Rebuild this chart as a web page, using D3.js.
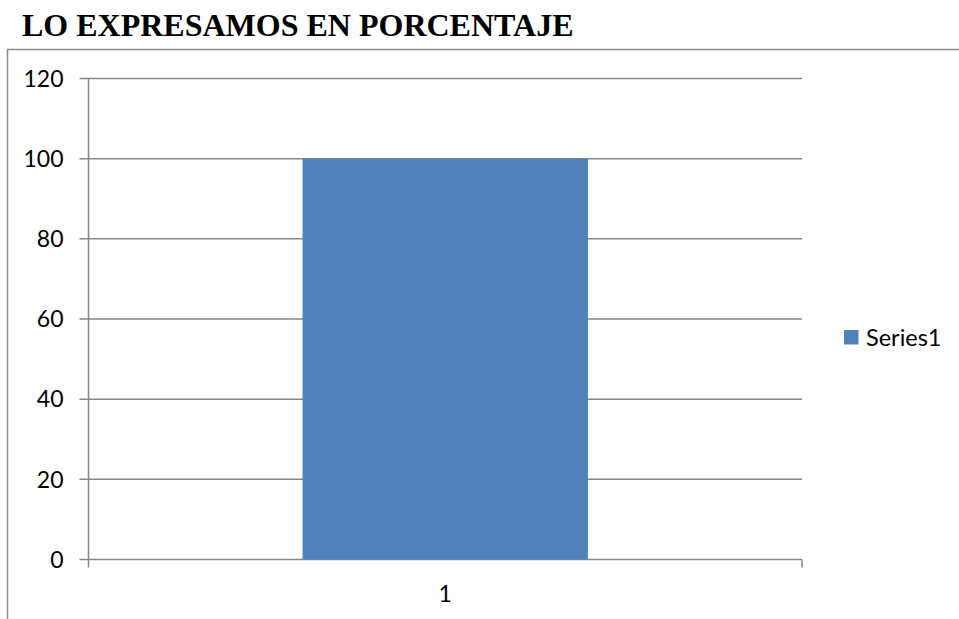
<!DOCTYPE html>
<html>
<head>
<meta charset="utf-8">
<script src="https://cdn.jsdelivr.net/npm/d3@7"></script>
<style>
  body { margin: 0; background: #fff; }
</style>
</head>
<body>
<div id="chart"></div>
<script>
// chart data
const categories = ["1"];
const values = [100];
const seriesName = "Series1";
const yTicks = [0, 20, 40, 60, 80, 100, 120];

const width = 959;
const height = 619;
const plot = {left: 88.5, right: 802, top: 78.5, bottom: 559.5};

const svg = d3.select("#chart")
  .append("svg")
  .attr("width", width)
  .attr("height", height);

// title
svg.append("text")
  .attr("x", 22)
  .attr("y", 36)
  .attr("font-family", "Liberation Serif, Times New Roman, serif")
  .attr("font-weight", "bold")
  .attr("font-size", "32px")
  .attr("fill", "#000")
  .text("LO EXPRESAMOS EN PORCENTAJE");

// chart frame (only top and left edges visible)
svg.append("path")
  .attr("d", `M7.5,${height} V49.5 H${width}`)
  .attr("fill", "none")
  .attr("stroke", "#8c8c8c")
  .attr("stroke-width", 1.5);

// scales
const yScale = d3.scaleLinear()
  .domain([0, 120])
  .range([plot.bottom, plot.top]);

const xScale = d3.scaleBand()
  .domain(categories)
  .range([plot.left, plot.right])
  .paddingInner(0.6)
  .paddingOuter(0.3);

// gridlines + y ticks
svg.append("g")
  .selectAll("line")
  .data(yTicks)
  .enter()
  .append("line")
  .attr("x1", plot.left - 9)
  .attr("x2", plot.right)
  .attr("y1", d => yScale(d))
  .attr("y2", d => yScale(d))
  .attr("stroke", "#868686")
  .attr("stroke-width", 1.5);

// y axis line
svg.append("line")
  .attr("x1", plot.left).attr("x2", plot.left)
  .attr("y1", plot.top).attr("y2", plot.bottom + 8)
  .attr("stroke", "#868686")
  .attr("stroke-width", 1.5);

// x tick mark at right category edge
svg.append("line")
  .attr("x1", plot.right).attr("x2", plot.right)
  .attr("y1", plot.bottom).attr("y2", plot.bottom + 8)
  .attr("stroke", "#868686")
  .attr("stroke-width", 1.5);

// y tick labels
svg.append("g")
  .selectAll("text")
  .data(yTicks)
  .enter()
  .append("text")
  .attr("x", 63.5)
  .attr("y", d => yScale(d))
  .attr("dy", "0.36em")
  .attr("text-anchor", "end")
  .attr("font-family", "Lato, Open Sans, sans-serif")
  .attr("font-size", "23px")
  .attr("fill", "#000")
  .text(d => d);

// bars
svg.selectAll(".bar")
  .data(values)
  .enter()
  .append("rect")
  .attr("class", "bar")
  .attr("x", (d, i) => xScale(categories[i]))
  .attr("y", d => yScale(d))
  .attr("width", xScale.bandwidth())
  .attr("height", d => plot.bottom - yScale(d))
  .attr("fill", "#4f81bd");

// x labels
svg.append("g")
  .selectAll("text")
  .data(categories)
  .enter()
  .append("text")
  .attr("x", d => xScale(d) + xScale.bandwidth() / 2)
  .attr("y", 601.5)
  .attr("text-anchor", "middle")
  .attr("font-family", "Lato, Open Sans, sans-serif")
  .attr("font-size", "23px")
  .attr("fill", "#000")
  .text(d => d);

// legend
const legend = svg.append("g").attr("transform", "translate(844,330)");
legend.append("rect")
  .attr("width", 14.5)
  .attr("height", 14.5)
  .attr("fill", "#4f81bd");
legend.append("text")
  .attr("x", 22)
  .attr("y", 15.5)
  .attr("font-family", "Lato, Open Sans, sans-serif")
  .attr("font-size", "23.5px")
  .attr("fill", "#000")
  .text(seriesName);
</script>
</body>
</html>
